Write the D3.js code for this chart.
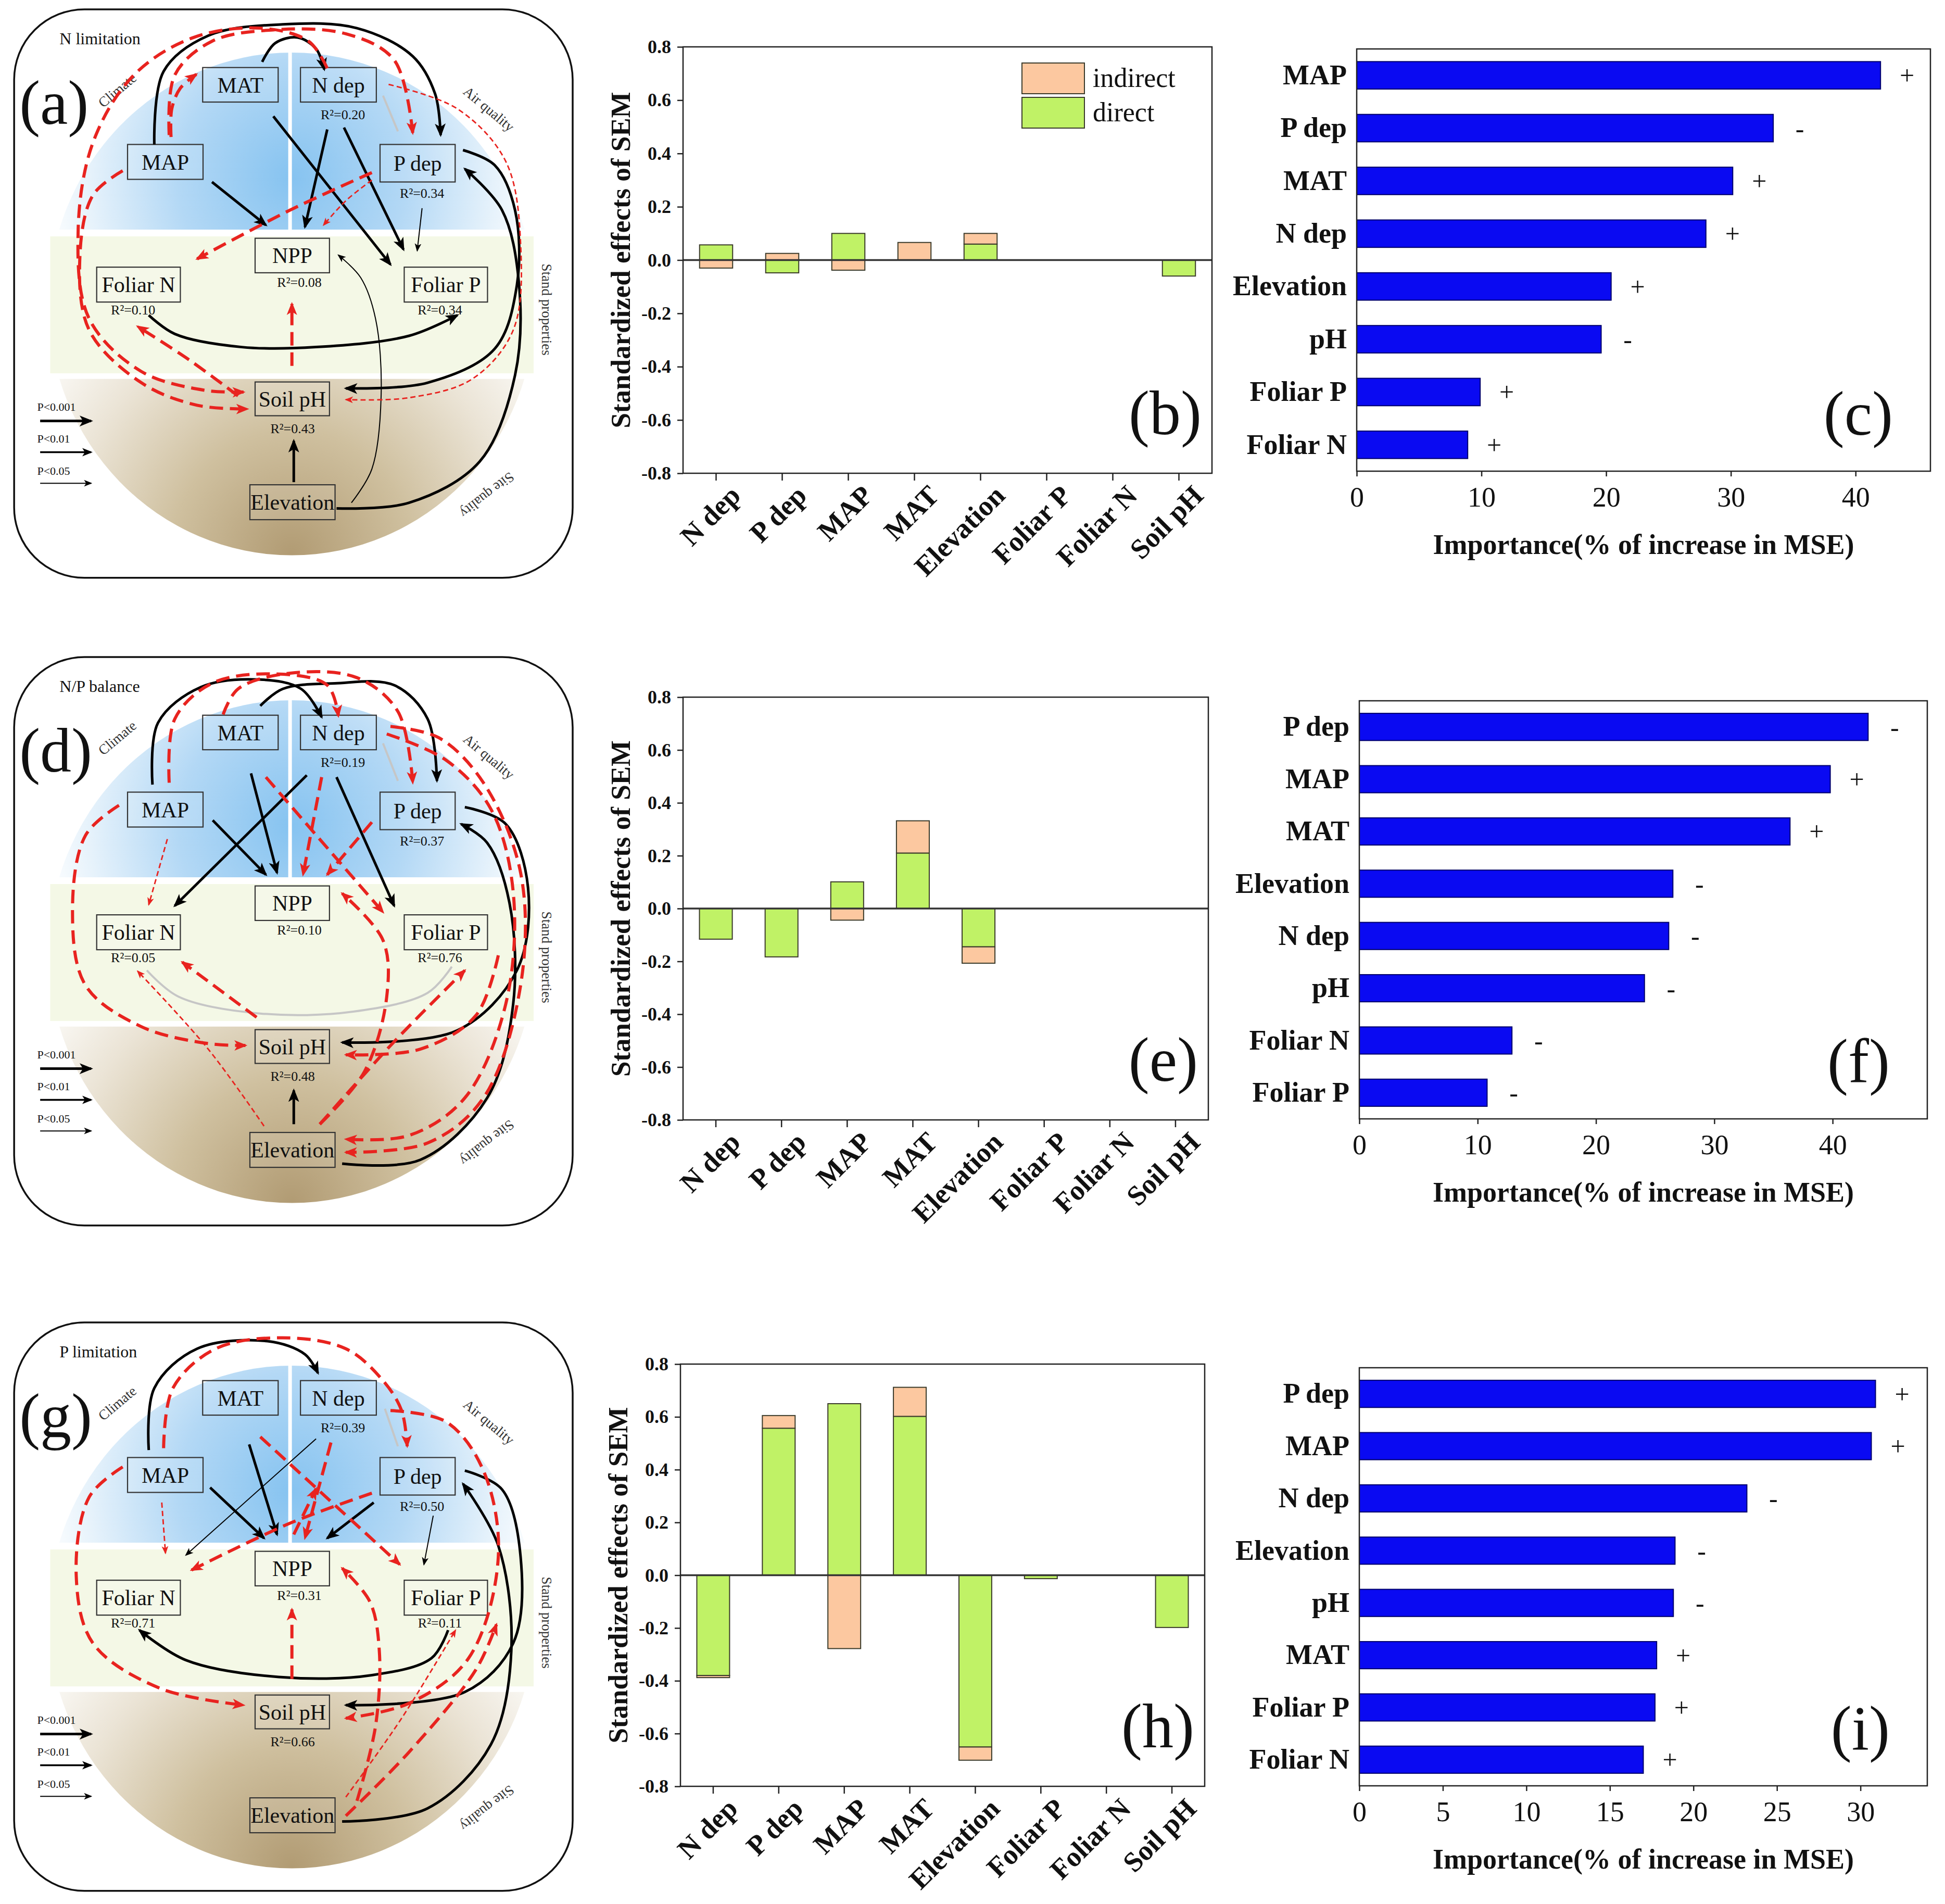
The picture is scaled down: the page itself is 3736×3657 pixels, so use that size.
<!DOCTYPE html>
<html>
<head>
<meta charset="utf-8">
<title>SEM paths, standardized effects and RF importance</title>
<script src="https://d3js.org/d3.v7.min.js"></script>
<style>
  body { margin: 0; background: #fff; }
  text { font-family: "Liberation Serif", "Times New Roman", serif; fill: #111; }
  text.node { font-size: 42px; }
  text.r2 { font-size: 26px; }
  text.zone { font-size: 27px; fill: #333; }
  text.scen { font-size: 32px; }
  text.plab { font-size: 22px; }
  text.letter { font-size: 120px; }
  text.semTitle { font-size: 53px; font-weight: bold; }
  text.impTitle { font-size: 54px; font-weight: bold; }
  text.legend { font-size: 52px; }
  text.sign { font-size: 50px; }
  .semY text { font-size: 36px; font-weight: bold; }
  .semX text { font-size: 54px; font-weight: bold; }
  .impX text { font-size: 54px; }
  .impY text { font-size: 54px; font-weight: bold; }
  .tick line { stroke: #222; stroke-width: 2.5; }
  path.domain { display: none; }
</style>
</head>
<body>
<script>
// ---------- data ----------
const semVars = ["N dep", "P dep", "MAP", "MAT", "Elevation", "Foliar P", "Foliar N", "Soil pH"];
const semTicks = [-0.8, -0.6, -0.4, -0.2, 0, 0.2, 0.4, 0.6, 0.8];

// (b) N limitation
const directB   = [0.057, -0.048, 0.10, 0, 0.06, 0, 0, -0.06];
const indirectB = [-0.03, 0.025, -0.038, 0.066, 0.04, 0, 0, 0];
// (e) N/P balance
const directE   = [-0.116, -0.183, 0.101, 0.21, -0.145, 0, 0, 0];
const indirectE = [0, 0, -0.044, 0.122, -0.062, 0, 0, 0];
// (h) P limitation
const directH   = [-0.38, 0.557, 0.65, 0.602, -0.651, -0.013, 0, -0.198];
const indirectH = [-0.008, 0.048, -0.278, 0.11, -0.05, 0, 0, 0];

// random forest importance
const impNamesC = ["MAP", "P dep", "MAT", "N dep", "Elevation", "pH", "Foliar P", "Foliar N"];
const impValsC  = [42.0, 33.4, 30.15, 28.0, 20.4, 19.6, 9.9, 8.9];
const impSignC  = ["+", "-", "+", "+", "+", "-", "+", "+"];
const impTicksC = [0, 10, 20, 30, 40];

const impNamesF = ["P dep", "MAP", "MAT", "Elevation", "N dep", "pH", "Foliar N", "Foliar P"];
const impValsF  = [43.0, 39.8, 36.4, 26.5, 26.15, 24.1, 12.9, 10.8];
const impSignF  = ["-", "+", "+", "-", "-", "-", "-", "-"];
const impTicksF = [0, 10, 20, 30, 40];

const impNamesI = ["P dep", "MAP", "N dep", "Elevation", "pH", "MAT", "Foliar P", "Foliar N"];
const impValsI  = [30.9, 30.65, 23.2, 18.9, 18.8, 17.8, 17.7, 17.0];
const impSignI  = ["+", "+", "-", "-", "-", "+", "+", "+"];
const impTicksI = [0, 5, 10, 15, 20, 25, 30];

// SEM diagrams: R2 of endogenous variables
const r2Vars = ["N dep", "P dep", "NPP", "Foliar N", "Foliar P", "Soil pH"];
const r2A = [0.20, 0.34, 0.08, 0.10, 0.34, 0.43];
const r2D = [0.19, 0.37, 0.10, 0.05, 0.76, 0.48];
const r2G = [0.39, 0.50, 0.31, 0.71, 0.11, 0.66];
const scenarios = ["N limitation", "N/P balance", "P limitation"];
const pLabels = ["P<0.001", "P<0.01", "P<0.05"];

// ---------- diagram layout (in a 1568 x 1568 drawing space) ----------
const nodeBox = {
  "MAT": [545, 180, 748, 272], "N dep": [808, 180, 1012, 272],
  "MAP": [343, 385, 546, 478], "P dep": [1022, 385, 1224, 485],
  "NPP": [686, 635, 886, 727], "Foliar N": [260, 712, 485, 805],
  "Foliar P": [1087, 712, 1311, 805], "Soil pH": [686, 1018, 886, 1108],
  "Elevation": [672, 1292, 901, 1385]
};
const r2Pos = {
  "N dep": [922, 305], "P dep": [1135, 515], "NPP": [805, 752],
  "Foliar N": [358, 826], "Foliar P": [1183, 826], "Soil pH": [787, 1142]
};

const edgesA = [
  ["k3", [[415,385],[440,190],[560,95],[760,65],[960,75],[1110,150],[1170,250],[1185,360]]],
  ["k3", [[705,165],[740,115],[800,100],[850,130],[872,185]]],
  ["k3", [[880,345],[820,605]]],
  ["k3", [[925,340],[1085,665]]],
  ["k3", [[735,310],[1050,705]]],
  ["k3", [[570,485],[715,600]]],
  ["k1", [[1135,555],[1122,668]]],
  ["k3", [[400,840],[470,890],[650,925],[850,925],[1100,895],[1230,840]]],
  ["k3", [[1245,400],[1330,440],[1385,560],[1390,760],[1330,930],[1150,1020],[930,1035]]],
  ["k3", [[905,1355],[1100,1340],[1290,1230],[1385,1000],[1395,750],[1350,560],[1250,450]]],
  ["k3", [[790,1285],[790,1175]]],
  ["k1", [[945,1340],[1000,1250],[1025,1050],[1010,850],[970,740],[910,680]]],
  ["g",  [[1030,255],[1070,350]]],
  ["r3", [[460,365],[462,290],[485,235],[528,198]]],
  ["r3", [[880,182],[830,110],[700,75],[520,100],[360,200],[250,380],[210,620],[240,850],[380,990],[550,1040],[655,1045]]],
  ["r3", [[455,360],[470,200],[570,110],[730,80],[930,90],[1060,160],[1110,355]]],
  ["r3", [[330,455],[250,520],[215,680],[240,880],[380,1020],[530,1080],[665,1090]]],
  ["r3", [[640,1055],[510,960],[370,870]]],
  ["r3", [[1000,460],[780,560],[530,690]]],
  ["r1", [[1000,480],[930,535],[870,600]]],
  ["r3", [[785,975],[785,810]]],
  ["r1", [[1045,225],[1230,290],[1360,430],[1400,650],[1380,880],[1270,1010],[1100,1060],[930,1065]]]
];

const edgesD = [
  ["k3", [[410,365],[425,200],[540,105],[700,85],[810,110],[865,185]]],
  ["k3", [[700,155],[760,110],[900,95],[1060,100],[1150,190],[1175,355]]],
  ["k3", [[675,335],[745,600]]],
  ["k3", [[825,340],[470,688]]],
  ["k3", [[572,460],[715,605]]],
  ["k3", [[905,345],[1060,688]]],
  ["k3", [[1250,425],[1360,470],[1420,640],[1390,860],[1230,1020],[920,1052]]],
  ["k3", [[920,1375],[1130,1365],[1310,1200],[1380,950],[1370,680],[1310,520],[1240,470]]],
  ["k3", [[790,1270],[790,1180]]],
  ["g",  [[395,860],[480,930],[700,975],[950,970],[1150,920],[1215,850]]],
  ["g",  [[1030,255],[1070,355]]],
  ["r3", [[455,360],[470,190],[570,95],[740,70],[880,100],[910,182]]],
  ["r3", [[600,178],[640,110],[780,68],[960,80],[1070,170],[1110,360]]],
  ["r3", [[1040,230],[1200,300],[1320,430],[1380,650],[1360,950],[1250,1200],[1100,1300],[930,1310]]],
  ["r3", [[1050,210],[1180,240],[1300,360],[1400,600],[1400,900],[1300,1200],[1150,1320],[930,1345]]],
  ["r1", [[450,510],[400,685]]],
  ["r3", [[320,420],[230,500],[195,700],[230,900],[380,1010],[560,1055],[660,1060]]],
  ["r3", [[690,985],[490,838]]],
  ["r1", [[710,1275],[560,1070],[370,862]]],
  ["r3", [[865,345],[815,605]]],
  ["r3", [[1000,465],[880,605]]],
  ["r3", [[715,345],[1030,705]]],
  ["r3", [[860,1270],[980,1130],[1040,930],[1030,780],[920,655]]],
  ["r3", [[860,1270],[1060,1050],[1250,860]]],
  ["r3", [[1340,820],[1280,980],[1130,1070],[930,1085]]]
];

const edgesG = [
  ["k3", [[400,365],[415,200],[530,95],[720,75],[820,110],[855,160]]],
  ["k3", [[670,350],[745,590]]],
  ["k3", [[565,465],[710,600]]],
  ["k1", [[850,335],[500,645]]],
  ["k3", [[1005,505],[880,600]]],
  ["k1", [[1165,540],[1140,670]]],
  ["k3", [[1205,845],[1160,920],[1000,965],[750,970],[500,925],[375,845]]],
  ["k3", [[1250,420],[1350,470],[1400,650],[1380,880],[1250,1010],[930,1045]]],
  ["k3", [[920,1355],[1150,1320],[1320,1150],[1375,900],[1340,620],[1245,455]]],
  ["g",  [[1035,255],[1070,355]]],
  ["r3", [[440,360],[465,200],[580,95],[760,66],[930,95],[1030,180],[1080,260],[1095,355]]],
  ["r3", [[1050,260],[1200,290],[1300,420],[1340,650],[1260,920],[1100,1040],[930,1080]]],
  ["r3", [[330,410],[240,490],[205,700],[250,880],[430,1000],[655,1045]]],
  ["r1", [[435,505],[445,640]]],
  ["r3", [[890,345],[820,600]]],
  ["r3", [[700,330],[1075,670]]],
  ["r3", [[1000,480],[780,560],[515,685]]],
  ["r3", [[790,590],[850,468]]],
  ["r3", [[785,975],[785,790]]],
  ["r3", [[960,1300],[1010,1100],[1020,900],[995,770],[920,680]]],
  ["r1", [[930,1290],[1080,1080],[1225,845]]],
  ["r3", [[930,1340],[1100,1170],[1280,950],[1335,830]]]
];

// ---------- svg ----------
const W = 3736, H = 3657;
const svg = d3.select("body").append("svg").attr("width", W).attr("height", H);
svg.append("rect").attr("width", W).attr("height", H).attr("fill", "#fff");
const defs = svg.append("defs");

function radial(id, cx, cy, r, stops) {
  const gr = defs.append("radialGradient").attr("id", id).attr("cx", cx).attr("cy", cy).attr("r", r);
  stops.forEach(s => gr.append("stop").attr("offset", s[0]).attr("stop-color", s[1]));
}
radial("sky", 0.5, 0.25, 0.52, [[0, "#86c3f0"], [0.45, "#b3d8f5"], [0.8, "#e6f2fb"], [1, "#ffffff"]]);
radial("soil", 0.5, 1.0, 0.62, [[0, "#b19b73"], [0.4, "#cfc09f"], [0.75, "#ebe4d6"], [1, "#fbfaf7"]]);

const RED = "#e8231f";
const edgeStyle = {
  k3: {stroke: "#000", w: 5, dash: null, head: 26},
  k2: {stroke: "#000", w: 3.5, dash: null, head: 20},
  k1: {stroke: "#000", w: 2, dash: null, head: 16},
  r3: {stroke: RED, w: 6, dash: "26,13", head: 25},
  r1: {stroke: RED, w: 2.8, dash: "10,6", head: 16},
  g:  {stroke: "#c6c6c6", w: 4, dash: null, head: 0}
};
Object.entries(edgeStyle).forEach(([k, s]) => {
  if (!s.head) return;
  defs.append("marker").attr("id", "ah-" + k)
    .attr("viewBox", "0 0 10 10").attr("refX", 8.5).attr("refY", 5)
    .attr("markerWidth", s.head).attr("markerHeight", s.head)
    .attr("markerUnits", "userSpaceOnUse").attr("orient", "auto")
    .append("path").attr("d", "M0,1L10,5L0,9L2.5,5Z").attr("fill", s.stroke);
});

// diagram drawing-space scales
const sx = d3.scaleLinear().domain([0, 1568]).range([0, 1120]);
const sy = d3.scaleLinear().domain([0, 1568]).range([0, 1130]);

defs.append("clipPath").attr("id", "clipTop").append("rect")
  .attr("x", 0).attr("y", 0).attr("width", sx(1568)).attr("height", sy(612));
defs.append("clipPath").attr("id", "clipBot").append("rect")
  .attr("x", 0).attr("y", sy(1010)).attr("width", sx(1568)).attr("height", sy(558));

const curve = d3.line().x(d => sx(d[0])).y(d => sy(d[1])).curve(d3.curveCatmullRom.alpha(0.5));

function drawDiagram(oy, edges, r2, scen, letter) {
  const g = svg.append("g").attr("transform", `translate(0,${oy})`);

  // sphere: sky dome, stand band, soil bowl
  g.append("ellipse").attr("clip-path", "url(#clipTop)")
    .attr("cx", sx(785)).attr("cy", sy(810)).attr("rx", sx(655)).attr("ry", sy(670))
    .attr("fill", "url(#sky)");
  g.append("ellipse").attr("clip-path", "url(#clipBot)")
    .attr("cx", sx(785)).attr("cy", sy(810)).attr("rx", sx(655)).attr("ry", sy(670))
    .attr("fill", "url(#soil)");
  g.append("rect").attr("x", sx(135)).attr("y", sy(630))
    .attr("width", sx(1300)).attr("height", sy(365)).attr("fill", "#f4f8e6");
  g.append("line").attr("x1", sx(780)).attr("x2", sx(780)).attr("y1", sy(140)).attr("y2", sy(612))
    .attr("stroke", "#fff").attr("stroke-width", 7);

  // zone names
  const zones = [["Climate", 315, 240, -40], ["Air quality", 1315, 290, 40],
                 ["Stand properties", 1470, 825, 90], ["Site quality", 1310, 1320, 142]];
  g.selectAll("text.zone").data(zones).enter().append("text").attr("class", "zone")
    .attr("text-anchor", "middle").attr("dy", "0.35em")
    .attr("transform", d => `translate(${sx(d[1])},${sy(d[2])}) rotate(${d[3]})`)
    .text(d => d[0]);

  // boxes
  const names = Object.keys(nodeBox);
  g.selectAll("rect.node").data(names).enter().append("rect").attr("class", "node")
    .attr("x", d => sx(nodeBox[d][0])).attr("y", d => sy(nodeBox[d][1]))
    .attr("width", d => sx(nodeBox[d][2]) - sx(nodeBox[d][0]))
    .attr("height", d => sy(nodeBox[d][3]) - sy(nodeBox[d][1]))
    .attr("fill", "rgba(255,255,255,0.12)").attr("stroke", "#333").attr("stroke-width", 2.2);
  g.selectAll("text.node").data(names).enter().append("text").attr("class", "node")
    .attr("text-anchor", "middle").attr("dy", "0.35em")
    .attr("x", d => sx((nodeBox[d][0] + nodeBox[d][2]) / 2))
    .attr("y", d => sy((nodeBox[d][1] + nodeBox[d][3]) / 2))
    .text(d => d);

  g.selectAll("text.r2").data(r2Vars).enter().append("text").attr("class", "r2")
    .attr("text-anchor", "middle").attr("dy", "0.35em")
    .attr("x", d => sx(r2Pos[d][0])).attr("y", d => sy(r2Pos[d][1]))
    .text((d, i) => "R\u00b2=" + r2[i].toFixed(2));

  // paths
  g.selectAll("path.edge").data(edges).enter().append("path").attr("class", "edge")
    .attr("d", d => curve(d[1]))
    .attr("fill", "none")
    .attr("stroke", d => edgeStyle[d[0]].stroke)
    .attr("stroke-width", d => edgeStyle[d[0]].w)
    .attr("stroke-dasharray", d => edgeStyle[d[0]].dash)
    .attr("marker-end", d => edgeStyle[d[0]].head ? `url(#ah-${d[0]})` : null);

  // significance legend
  const lk = ["k3", "k2", "k1"];
  pLabels.forEach((lab, i) => {
    g.append("text").attr("class", "plab").attr("x", sx(100)).attr("y", sy(1095 + i * 85)).text(lab);
    g.append("line").attr("x1", sx(108)).attr("x2", sx(245))
      .attr("y1", sy(1122 + i * 83)).attr("y2", sy(1122 + i * 83))
      .attr("stroke", "#000").attr("stroke-width", edgeStyle[lk[i]].w)
      .attr("marker-end", `url(#ah-${lk[i]})`);
  });

  g.append("text").attr("class", "scen").attr("x", sx(160)).attr("y", sy(118)).text(scen);
  g.append("text").attr("class", "letter").attr("x", sx(52)).attr("y", sy(330)).text(letter);

  g.append("rect").attr("x", sx(38)).attr("y", sy(25))
    .attr("width", sx(1502)).attr("height", sy(1515)).attr("rx", 135)
    .attr("fill", "none").attr("stroke", "#111").attr("stroke-width", 3.5);
}

drawDiagram(0, edgesA, r2A, scenarios[0], "(a)");
drawDiagram(1244, edgesD, r2D, scenarios[1], "(d)");
drawDiagram(2522, edgesG, r2G, scenarios[2], "(g)");

// ---------- SEM effect bar charts ----------
const fillDirect = "#c0f266", fillIndirect = "#fcc8a0";

function drawSem(p, direct, indirect, letter, legend) {
  const g = svg.append("g");
  const x = d3.scaleBand().domain(semVars).range([p.left, p.right]).paddingInner(0.5).paddingOuter(0.25);
  const y = d3.scaleLinear().domain([-0.8, 0.8]).range([p.bottom, p.top]);

  const segs = [];
  semVars.forEach((v, i) => {
    const d = direct[i], ind = indirect[i];
    if (d !== 0) segs.push({v, a: 0, b: d, type: "direct"});
    if (ind !== 0) {
      if (d !== 0 && Math.sign(d) === Math.sign(ind)) segs.push({v, a: d, b: d + ind, type: "indirect"});
      else segs.push({v, a: 0, b: ind, type: "indirect"});
    }
  });
  g.selectAll("rect.seg").data(segs).enter().append("rect").attr("class", "seg")
    .attr("x", d => x(d.v)).attr("width", x.bandwidth())
    .attr("y", d => y(Math.max(d.a, d.b)))
    .attr("height", d => Math.abs(y(d.a) - y(d.b)))
    .attr("fill", d => d.type === "direct" ? fillDirect : fillIndirect)
    .attr("stroke", "#3a3a2a").attr("stroke-width", 2);

  g.append("line").attr("x1", p.left).attr("x2", p.right).attr("y1", y(0)).attr("y2", y(0))
    .attr("stroke", "#333").attr("stroke-width", 3.5);

  g.append("g").attr("class", "semY").attr("transform", `translate(${p.left},0)`)
    .call(d3.axisLeft(y).tickValues(semTicks).tickFormat(d => d.toFixed(1))
      .tickSize(11).tickPadding(12).tickSizeOuter(0));

  const xa = g.append("g").attr("class", "semX").attr("transform", `translate(0,${p.bottom})`)
    .call(d3.axisBottom(x).tickSize(14).tickSizeOuter(0));
  xa.selectAll("text").attr("y", 0).attr("dy", 0).attr("text-anchor", "end")
    .attr("transform", "translate(50,46) rotate(-45)");

  g.append("rect").attr("x", p.left).attr("y", p.top)
    .attr("width", p.right - p.left).attr("height", p.bottom - p.top)
    .attr("fill", "none").attr("stroke", "#222").attr("stroke-width", 2.5);

  g.append("text").attr("class", "semTitle").attr("text-anchor", "middle")
    .attr("transform", `translate(${p.left - 102},${(p.top + p.bottom) / 2}) rotate(-90)`)
    .text("Standardized effects of SEM");

  g.append("text").attr("class", "letter").attr("text-anchor", "end")
    .attr("x", p.right - 20).attr("y", p.bottom - 75).text(letter);

  if (legend) {
    const items = [["indirect", fillIndirect], ["direct", fillDirect]];
    items.forEach((it, i) => {
      const top = p.top + 31 + i * 66;
      g.append("rect").attr("x", p.right - 365).attr("y", top).attr("width", 120).attr("height", 59)
        .attr("fill", it[1]).attr("stroke", "#3a3a2a").attr("stroke-width", 2);
      g.append("text").attr("class", "legend").attr("x", p.right - 229).attr("y", top + 46).text(it[0]);
    });
  }
}

drawSem({left: 1312, right: 2328, top: 90, bottom: 909}, directB, indirectB, "(b)", true);
drawSem({left: 1312, right: 2321, top: 1339, bottom: 2151}, directE, indirectE, "(e)", false);
drawSem({left: 1307, right: 2314, top: 2620, bottom: 3431}, directH, indirectH, "(h)", false);

// ---------- random forest importance ----------
function drawImp(p, names, vals, signs, xmax, ticks, letter) {
  const g = svg.append("g");
  const x = d3.scaleLinear().domain([0, xmax]).range([p.left, p.right]);
  const y = d3.scaleBand().domain(names).range([p.top, p.bottom]).paddingInner(0.48).paddingOuter(0.24);
  const rows = names.map((n, i) => ({n, v: vals[i], s: signs[i]}));

  g.selectAll("rect.bar").data(rows).enter().append("rect").attr("class", "bar")
    .attr("x", x(0)).attr("y", d => y(d.n))
    .attr("width", d => x(d.v) - x(0)).attr("height", y.bandwidth())
    .attr("fill", "#0a0af2").attr("stroke", "#00006a").attr("stroke-width", 2);

  g.selectAll("text.sign").data(rows).enter().append("text").attr("class", "sign")
    .attr("text-anchor", "middle").attr("dy", "0.35em")
    .attr("x", d => x(d.v) + 51).attr("y", d => y(d.n) + y.bandwidth() / 2)
    .text(d => d.s);

  g.append("g").attr("class", "impX").attr("transform", `translate(0,${p.bottom})`)
    .call(d3.axisBottom(x).tickValues(ticks).tickFormat(d3.format("d")).tickSize(10).tickPadding(20).tickSizeOuter(0));
  g.append("g").attr("class", "impY").attr("transform", `translate(${p.left},0)`)
    .call(d3.axisLeft(y).tickSize(0).tickPadding(19));

  g.append("rect").attr("x", p.left).attr("y", p.top)
    .attr("width", p.right - p.left).attr("height", p.bottom - p.top)
    .attr("fill", "none").attr("stroke", "#222").attr("stroke-width", 2.5);

  g.append("text").attr("class", "impTitle").attr("text-anchor", "middle")
    .attr("x", (p.left + p.right) / 2).attr("y", p.bottom + 159)
    .text("Importance(% of increase in MSE)");

  g.append("text").attr("class", "letter").attr("text-anchor", "end")
    .attr("x", p.right - 72).attr("y", p.bottom - 70).text(letter);
}

drawImp({left: 2606, right: 3708, top: 94, bottom: 905}, impNamesC, impValsC, impSignC, 46, impTicksC, "(c)");
drawImp({left: 2611, right: 3702, top: 1346, bottom: 2149}, impNamesF, impValsF, impSignF, 48, impTicksF, "(f)");
drawImp({left: 2611, right: 3702, top: 2627, bottom: 3430}, impNamesI, impValsI, impSignI, 34, impTicksI, "(i)");
</script>
</body>
</html>
